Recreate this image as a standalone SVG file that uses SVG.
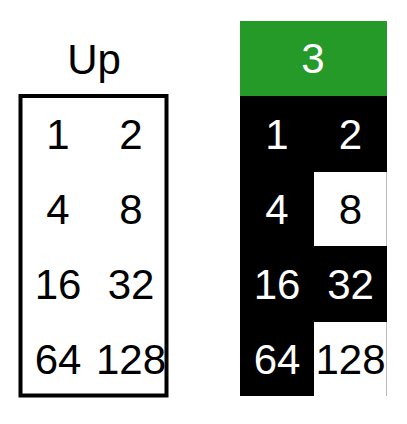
<svg xmlns="http://www.w3.org/2000/svg" width="407" height="424" viewBox="0 0 407 424">
<style>
text{font-family:"Liberation Sans",Arial,sans-serif;font-size:42px;text-anchor:middle}
.b{fill:#000}
.w{fill:#fff}
</style>
<rect width="407" height="424" fill="#fff"/>
<g id="up">
<text class="b" x="94" y="73.5">Up</text>
<rect x="20.5" y="96" width="146" height="299.5" fill="none" stroke="#000" stroke-width="4"/>
<text class="b" x="58" y="149">1</text>
<text class="b" x="131" y="149">2</text>
<text class="b" x="58" y="224">4</text>
<text class="b" x="131" y="224">8</text>
<text class="b" x="58" y="299">16</text>
<text class="b" x="131" y="299">32</text>
<text class="b" x="58" y="373.5">64</text>
<text class="b" x="131" y="373.5">128</text>
</g>
<g id="state">
<rect x="240" y="21" width="147" height="75" fill="#259a28"/>
<text class="w" x="313" y="73">3</text>
<rect x="240" y="96" width="147" height="76" fill="#000"/>
<rect x="240" y="172" width="74" height="74" fill="#000"/>
<rect x="240" y="246" width="147" height="76" fill="#000"/>
<rect x="240" y="322" width="74" height="74" fill="#000"/>
<line x1="386.5" y1="172" x2="386.5" y2="246" stroke="#bbb" stroke-width="1"/>
<line x1="386.5" y1="322" x2="386.5" y2="396" stroke="#bbb" stroke-width="1"/>
<text class="w" x="277" y="149">1</text>
<text class="w" x="350.5" y="149">2</text>
<text class="w" x="277" y="224">4</text>
<text class="b" x="350.5" y="224">8</text>
<text class="w" x="277" y="299">16</text>
<text class="w" x="350.5" y="299">32</text>
<text class="w" x="277" y="373.5">64</text>
<text class="b" x="350.5" y="373.5">128</text>
</g>
<g id="connectors"></g>
</svg>
